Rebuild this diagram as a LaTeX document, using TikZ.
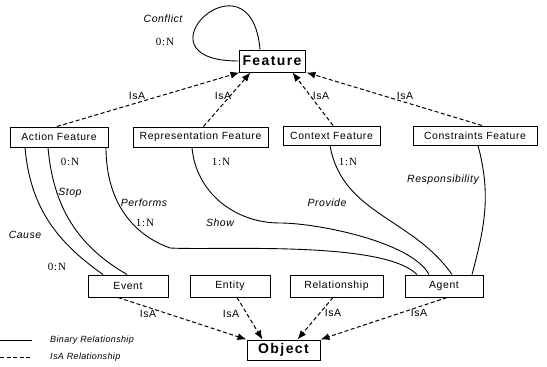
\documentclass[tikz,border=0pt]{standalone}
\usepackage{fontspec}
\setmainfont{Liberation Sans}
\newfontfamily\cardfont{Liberation Serif}
\usetikzlibrary{arrows.meta}

\begin{document}
\begin{tikzpicture}
[every node/.style={inner sep=0pt},
 box/.style={rectangle, draw=black, line width=1pt, minimum height=20pt, font=\fontsize{10.4}{12}\selectfont\addfontfeatures{LetterSpace=6}},
 bigbox/.style={box, font=\fontsize{14}{16}\selectfont\bfseries\addfontfeatures{LetterSpace=10}},
 isa/.style={line width=1pt, dash pattern=on 4pt off 2.5pt, -{Latex[length=9pt,width=7pt]}},
 rel/.style={line width=0.9pt},
 lbl/.style={font=\fontsize{10.5}{12}\selectfont\itshape\addfontfeatures{LetterSpace=5}},
 legend/.style={font=\fontsize{9}{11}\selectfont\itshape\addfontfeatures{LetterSpace=4}},
 card/.style={font=\cardfont\fontsize{11}{13}\selectfont\addfontfeatures{LetterSpace=8}},
 isalbl/.style={font=\fontsize{10.5}{12}\selectfont\addfontfeatures{LetterSpace=6}}]
\useasboundingbox (0pt,0pt) rectangle (547pt,-367pt);
\node (feature) [bigbox, minimum width=66pt, minimum height=22pt] at (272pt, -61pt) {Feature};
\node (action) [box, minimum width=98pt] at (59pt, -137pt) {Action Feature};
\node (representation) [box, minimum width=135pt] at (200.5pt, -137pt) {Representation Feature};
\node (context) [box, minimum width=97pt, minimum height=19pt] at (331.5pt, -135.5pt) {Context Feature};
\node (constraints) [box, minimum width=124pt, minimum height=19pt] at (475pt, -135.5pt) {Constraints Feature};
\node (event) [box, minimum width=80pt, minimum height=22pt] at (128pt, -286pt) {Event};
\node (entity) [box, minimum width=80pt, minimum height=22pt] at (230pt, -286pt) {Entity};
\node (relationship) [box, minimum width=93pt, minimum height=22pt] at (336.5pt, -286pt) {Relationship};
\node (agent) [box, minimum width=78pt, minimum height=22pt] at (444pt, -286pt) {Agent};
\node (object) [bigbox, minimum width=73pt] at (283.5pt, -350pt) {Object};
% IsA links
\draw [isa] ([xshift=-2pt]action.north) to ([xshift=1pt]feature.south west);
\draw [isa] ([xshift=3pt]representation.north) to ([xshift=12pt]feature.south west);
\draw [isa] ([xshift=1.5pt]context.north) to ([xshift=-13pt]feature.south east);
\draw [isa] ([xshift=7pt]constraints.north) to ([xshift=1pt]feature.south east);
\draw [isa] ([xshift=-10pt]event.south) to (object.north west);
\draw [isa] ([xshift=7pt]entity.south) to ([xshift=16pt]object.north west);
\draw [isa] ([xshift=-3.5pt]relationship.south) to ([xshift=-23pt]object.north east);
\draw [isa] ([xshift=3pt]agent.south) to (object.north east);
\node (isa1) [isalbl] at (137pt, -96pt) {IsA};
\node (isa2) [isalbl] at (223pt, -96pt) {IsA};
\node (isa3) [isalbl] at (321pt, -96pt) {IsA};
\node (isa4) [isalbl] at (405pt, -96pt) {IsA};
\node (isa5) [isalbl] at (148pt, -314pt) {IsA};
\node (isa6) [isalbl] at (231pt, -314pt) {IsA};
\node (isa7) [isalbl] at (333pt, -313pt) {IsA};
\node (isa8) [isalbl] at (419pt, -313pt) {IsA};
% binary links
\coordinate (perf) at (170pt, -248pt);
\coordinate (show) at (280pt, -223pt);
\draw [rel] (feature.west) .. controls +(180:110pt) and +(95:105pt) .. ([xshift=-12pt]feature.north);
\draw [rel] ([xshift=-34pt]action.south) to [out=-85, in=145] ([xshift=-25pt]event.north);
\draw [rel] ([xshift=-11pt]action.south) to [out=-85, in=150] ([xshift=-1pt]event.north);
\draw [rel] ([xshift=47pt]action.south) to [out=-90, in=160] (perf) to [out=-3, in=135, looseness=0.5] ([xshift=-27pt]agent.north);
\draw [rel] ([xshift=-8.5pt]representation.south) to [out=-85, in=180] (show) to [out=0, in=118, looseness=0.6] ([xshift=-15pt]agent.north);
\draw [rel] ([xshift=-1.5pt]context.south) to [out=-80, in=125] ([xshift=8pt]agent.north);
\draw [rel] ([xshift=3pt]constraints.south) to [out=-75, in=75] ([xshift=28pt]agent.north);
\node (conflict) [lbl] at (163pt, -19pt) {Conflict};
\node (conflictcard) [card] at (165pt, -42pt) {0:N};
\node (stopcard) [card] at (70pt, -162pt) {0:N};
\node (stop) [lbl] at (70pt, -193pt) {Stop};
\node (cause) [lbl] at (25pt, -235pt) {Cause};
\node (causecard) [card] at (57pt, -267pt) {0:N};
\node (performs) [lbl] at (144pt, -203pt) {Performs};
\node (performscard) [card] at (145pt, -223pt) {1:N};
\node (showcard) [card] at (221pt, -162pt) {1:N};
\node (showlbl) [lbl] at (220pt, -223pt) {Show};
\node (providecard) [card] at (348pt, -162pt) {1:N};
\node (provide) [lbl] at (327pt, -203pt) {Provide};
\node (responsibility) [lbl] at (443pt, -180pt) {Responsibility};
% legend
\coordinate (bin1) at (0pt, -340pt);
\coordinate (bin2) at (32pt, -340pt);
\coordinate (dash1) at (0pt, -357pt);
\coordinate (dash2) at (32pt, -357pt);
\draw [rel] (bin1) -- (bin2);
\draw [line width=1pt, dash pattern=on 4pt off 2.5pt] (dash1) -- (dash2);
\node (binlbl) [legend, anchor=west] at (50pt, -340pt) {Binary Relationship};
\node (dashlbl) [legend, anchor=west] at (50pt, -357pt) {IsA Relationship};
\end{tikzpicture}
\end{document}
